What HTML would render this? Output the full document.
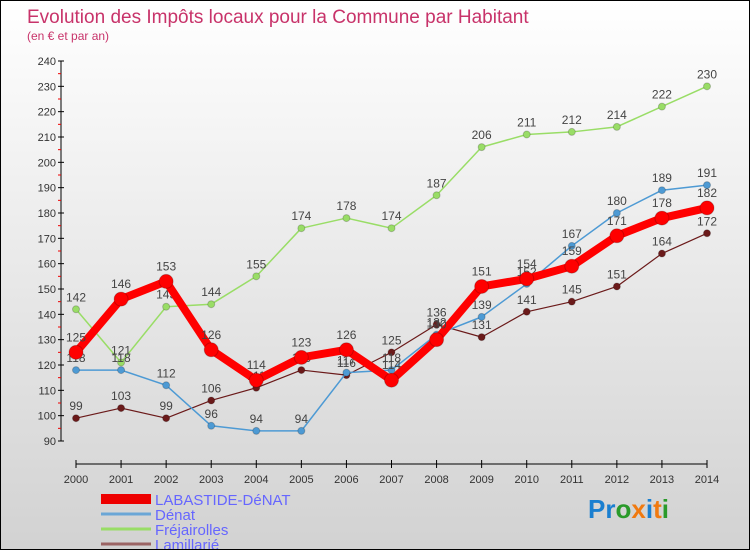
<!DOCTYPE html>
<html><head><meta charset="utf-8">
<style>
body{margin:0;}
#wrap{width:748px;height:548px;border:1px solid #000;background:linear-gradient(#ffffff,#d2d2d2);position:relative;overflow:hidden;font-family:"Liberation Sans",sans-serif;}
svg{position:absolute;left:0;top:0;}
</style></head>
<body>
<div id="wrap">
<svg id="chart" width="750" height="550">
<text x="26" y="22" font-size="19" fill="#c8336a">Evolution des Impôts locaux pour la Commune par Habitant</text>
<text x="26" y="39" font-size="12" fill="#c8336a">(en € et par an)</text>
<text x="587" y="517" font-size="26" font-weight="bold"><tspan fill="#1a7fd0">Pr</tspan><tspan fill="#2a9a2a">o</tspan><tspan fill="#f07a10">x</tspan><tspan fill="#1a7fd0">i</tspan><tspan fill="#f07a10">t</tspan><tspan fill="#2a9a2a">i</tspan></text>
</svg>
</div>
<script>
const years=[2000,2001,2002,2003,2004,2005,2006,2007,2008,2009,2010,2011,2012,2013,2014];
const yTicks=[90,100,110,120,130,140,150,160,170,180,190,200,210,220,230,240];
const labastide=[125,146,153,126,114,123,126,114,130,151,154,159,171,178,182];
const denat=[118,118,112,96,94,94,117,118,132,139,152,167,180,189,191];
const frejairolles=[142,121,143,144,155,174,178,174,187,206,211,212,214,222,230];
const lamillarie=[99,103,99,106,111,118,116,125,136,131,141,145,151,164,172];
const names=["LABASTIDE-DéNAT","Dénat","Fréjairolles","Lamillarié"];
const NS="http://www.w3.org/2000/svg";
const svg=document.getElementById('chart');
const x=i=>75+i*(706-75)/(years.length-1);
const y=v=>440-(v-90)*(380/150);
function el(t,a,p){const e=document.createElementNS(NS,t);for(const k in a)e.setAttribute(k,a[k]);(p||svg).appendChild(e);return e;}
// y axis
let ax=el('line',{x1:60,y1:60,x2:60,y2:440,stroke:'#000','stroke-width':1});


yTicks.forEach(v=>{
 el('line',{x1:57,y1:y(v),x2:63,y2:y(v),stroke:'#000'});
 if(v<240) el('line',{x1:57,y1:y(v+5),x2:60,y2:y(v+5),stroke:'#e00'});
 const t=el('text',{x:55,y:y(v)+4,'font-size':11,'text-anchor':'end',fill:'#333'});t.textContent=v;
 
 
});
let xa=el('line',{x1:75,y1:463,x2:706,y2:463,stroke:'#000'});


years.forEach((yr,i)=>{
 el('line',{x1:x(i),y1:459,x2:x(i),y2:467,stroke:'#000'});
 const t=el('text',{x:x(i),y:482,'font-size':11,'text-anchor':'middle',fill:'#333'});t.textContent=yr;
 
 
});
function series(data,color,w,r,name,labelOffset){
 const g=el('g',{});
 
 
 el('polyline',{points:data.map((v,i)=>x(i)+','+y(v)).join(' '),fill:'none',stroke:color,'stroke-width':w,'stroke-linejoin':'round'},g);
 data.forEach((v,i)=>{
  const c=el('circle',{cx:x(i),cy:y(v),r:r,fill:color,stroke:'rgba(0,0,0,0.2)'},g);
  
  
  const t=el('text',{x:x(i),y:y(v)-labelOffset,'font-size':12,'text-anchor':'middle',fill:'#444'},g);t.textContent=v;
  
  
 });
}
series(frejairolles,'#99dd66',1.5,3.5,'frejairolles-series',8);
series(lamillarie,'#6b1a1a',1.2,3.5,'lamillarie-series',8);
series(denat,'#4d9ad4',1.5,3.5,'denat-series',8);
series(labastide,'#ff0000',8,7,'labastide-series',11);
// legend
const lc=['#ee0000','#6aa6d6','#99dd66','#9b6464'];
const lw=[10,3,3,3];
names.forEach((n,i)=>{
 const yy=498+i*15;
 const g=el('g',{});
 
 
 el('line',{x1:100,y1:yy,x2:150,y2:yy,stroke:lc[i],'stroke-width':lw[i]},g);
 const t=el('text',{x:154,y:yy+6,'font-size':15,fill:'#6666ff'},g);t.textContent=n;
});
</script>
</body></html>
